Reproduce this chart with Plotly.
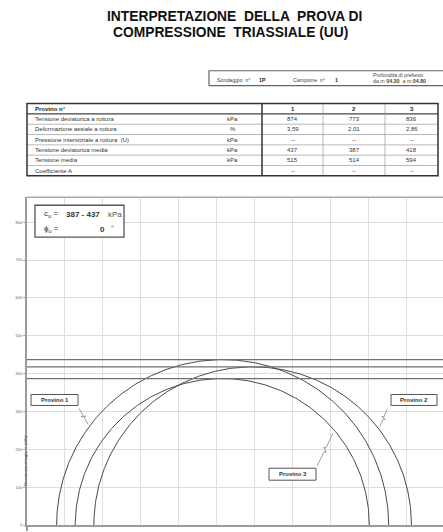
import numpy as np
import plotly.graph_objects as go

W, H = 443, 532

# ---- test results (one entry per specimen) ----
provini = ["1", "2", "3"]
tens_dev_rottura = [874, 773, 836]          # kPa
def_assiale = ["3,59", "2,01", "2,86"]      # %
press_interstiziale = ["--", "--", "--"]    # kPa
tens_dev_media = [437, 387, 418]            # kPa (circle radius)
tens_media = [515, 514, 594]                # kPa (circle centre)
coeff_A = ["--", "--", "--"]

row_labels = [
    "Tensione deviatorica a rottura",
    "Deformazione assiale a rottura",
    "Pressione interstiziale a rottura  (U)",
    "Tensione deviatorica media",
    "Tensione media",
    "Coefficiente A",
]
row_units = ["kPa", "%", "kPa", "kPa", "kPa", ""]

sondaggio = "1P"
campione = "1"
prof_da, prof_a = "04.30", "04.80"

y_ticks = list(range(0, 900, 100))
x_max, y_max = 1095, 866

FONT = "Liberation Sans, Arial, sans-serif"
INK = "#222222"


def px(x):
    return x / W


def py(y):
    return 1 - y / H


fig = go.Figure()
shapes = []
ann = []


def text(x, y, s, size=5, xanchor="left", bold=False, color=INK):
    ann.append(dict(
        x=px(x), y=py(y), xref="paper", yref="paper", showarrow=False,
        text=f"<b>{s}</b>" if bold else s, xanchor=xanchor, yanchor="middle",
        font=dict(family=FONT, size=size, color=color)))


def line(x0, y0, x1, y1, color="#555555", width=1):
    shapes.append(dict(type="line", xref="paper", yref="paper",
                       x0=px(x0), y0=py(y0), x1=px(x1), y1=py(y1),
                       line=dict(color=color, width=width)))


def rect(x0, y0, x1, y1, color="#555555", width=1, fill="white"):
    shapes.append(dict(type="rect", xref="paper", yref="paper",
                       x0=px(x0), y0=py(y0), x1=px(x1), y1=py(y1),
                       line=dict(color=color, width=width), fillcolor=fill))


# ---- title ----
text(234, 17, "INTERPRETAZIONE  DELLA  PROVA DI", size=13.8, xanchor="center", bold=True, color="#111")
text(230, 33, "COMPRESSIONE  TRIASSIALE (UU)", size=13.8, xanchor="center", bold=True, color="#111")

# ---- sample identification box ----
rect(209, 71, 445, 86, color="#666666", width=1.2, fill="rgba(0,0,0,0)")
text(215, 80, "Sondaggio  n°", size=5.3, color="#444")
text(257, 80, sondaggio, size=5.3, bold=True)
text(291, 80, "Campione  n°", size=5.3, color="#444")
text(333, 80, campione, size=5.3, bold=True)
text(371, 75, "Profondità di prelievo:", size=5.3, color="#444")
text(371, 81.5, f"da m <b>{prof_da}</b>  a m <b>{prof_a}</b>", size=5.3, color="#444")

# ---- results table ----
t_left, t_right, t_top = 27, 438, 104
row_h = 10.35
n_rows = 1 + len(row_labels)
t_bot = t_top + n_rows * row_h
col_x = [262, 323, 385, 438]
unit_x = 233

for k in range(1, n_rows):
    yy = t_top + k * row_h
    line(t_left, yy, t_right, yy, color="#444" if k == 1 else "#9a9a9a", width=1.2 if k == 1 else 0.7)
for cx in col_x[1:3]:
    line(cx, t_top, cx, t_bot, color="#9a9a9a", width=0.7)
line(col_x[0], t_top, col_x[0], t_bot, color="#333", width=1.5)
rect(t_left, t_top, t_right, t_bot, color="#333", width=1.5, fill="rgba(0,0,0,0)")

text(33, t_top + row_h / 2, "Provino n°", size=6, bold=True)
for j, p in enumerate(provini):
    text((col_x[j] + col_x[j + 1]) / 2, t_top + row_h / 2, p, size=6, xanchor="center", bold=True)

table_vals = [tens_dev_rottura, def_assiale, press_interstiziale, tens_dev_media, tens_media, coeff_A]
for i, (lab, unit, vals) in enumerate(zip(row_labels, row_units, table_vals)):
    yc = t_top + (i + 1.5) * row_h
    text(33, yc, lab, size=6, color="#333")
    if unit:
        text(unit_x, yc, unit, size=6, xanchor="center", color="#333")
    for j, v in enumerate(vals):
        text((col_x[j] + col_x[j + 1]) / 2, yc, str(v), size=6, xanchor="center", color="#333")

# ---- Mohr circles (upper halves) ----
theta = np.linspace(0, np.pi, 241)
for c, r in zip(tens_media, tens_dev_media):
    fig.add_trace(go.Scatter(
        x=c + r * np.cos(theta), y=r * np.sin(theta), mode="lines",
        line=dict(color="#4a4a4a", width=1), hoverinfo="skip", showlegend=False))

# ---- undrained strength envelopes (phi_u = 0) ----
for r in tens_dev_media:
    fig.add_trace(go.Scatter(
        x=[0, x_max], y=[r, r], mode="lines",
        line=dict(color="#707070", width=1.3), hoverinfo="skip", showlegend=False))

# plot frame (top edge and axis extension)
line(27, 198, 445, 198, color="#aaaaaa", width=1.5)
line(27, 527, 27, 533, color="#9a9a9a", width=2)

# ---- cu / phi_u summary box ----
cu_min, cu_max = min(tens_dev_media), max(tens_dev_media)
rect(35, 206, 124, 238, color="#555", width=1.3)
text(42, 215, "c<sub>u</sub> =", size=8, color="#333")
text(64, 215, f"{cu_min} - {cu_max}", size=8, bold=True, color="#333")
text(106, 215, "kPa", size=8, color="#555")
text(42, 230, "ϕ<sub>u</sub> =", size=8, color="#333")
text(98, 230, "0", size=8, bold=True, color="#333")
text(109, 229, "°", size=7, color="#555")


# ---- specimen call-outs with broken leader lines ----
def leader(x0, y0, x1, y1):
    dx, dy = x1 - x0, y1 - y0
    L = (dx * dx + dy * dy) ** 0.5
    nx, ny = -dy / L * 2.2, dx / L * 2.2
    a = (x0 + 0.45 * dx, y0 + 0.45 * dy)
    b = (x0 + 0.55 * dx, y0 + 0.55 * dy)
    pts = [(x0, y0), a, (a[0] + nx, a[1] + ny), (b[0] - nx, b[1] - ny), b, (x1, y1)]
    path = "M " + " L ".join(f"{px(x):.5f},{py(y):.5f}" for x, y in pts)
    shapes.append(dict(type="path", xref="paper", yref="paper", path=path,
                       line=dict(color="#888888", width=0.8)))


callouts = [
    ("Provino 1", (31, 396, 78, 407), (79, 410, 88, 426)),
    ("Provino 2", (391, 396, 437, 407), (387, 411, 380, 428)),
    ("Provino 3", (269, 470, 316, 482), (317, 468, 333, 435)),
]
for lab, (bx0, by0, bx1, by1), (lx0, ly0, lx1, ly1) in callouts:
    leader(lx0, ly0, lx1, ly1)
    rect(bx0, by0, bx1, by1, color="#555", width=1)
    text((bx0 + bx1) / 2, (by0 + by1) / 2, lab, size=6, xanchor="center", bold=True, color="#333")

# y-axis title
ann.append(dict(x=px(21.5), y=py(490), xref="paper", yref="paper", showarrow=False,
                text="Resistenza al taglio  τ  (kPa)", textangle=-90,
                font=dict(family=FONT, size=4, color="#555")))

fig.update_layout(
    width=W, height=H, margin=dict(l=0, r=0, t=0, b=0),
    paper_bgcolor="white", plot_bgcolor="white",
    shapes=shapes, annotations=ann, showlegend=False,
    xaxis=dict(domain=[27 / W, 1], range=[0, x_max], dtick=100, tick0=0,
               showgrid=True, gridcolor="#dedede", gridwidth=1,
               showticklabels=False, zeroline=False,
               showline=True, linecolor="#9a9a9a", linewidth=2),
    yaxis=dict(domain=[5 / H, 334 / H], range=[0, y_max],
               tickvals=y_ticks, ticktext=[str(v) for v in y_ticks],
               showgrid=True, gridcolor="#dedede", gridwidth=1,
               zeroline=False, showline=True, linecolor="#9a9a9a", linewidth=2,
               ticks="outside", ticklen=2, tickcolor="#aaaaaa",
               tickfont=dict(family=FONT, size=4, color="#666")),
)

fig.write_html("out.html")
